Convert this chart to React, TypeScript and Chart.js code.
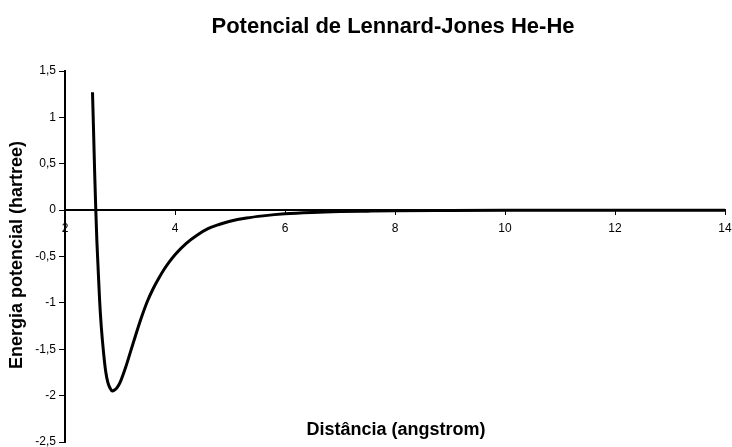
import React, { useEffect, useRef } from "react";
import { Chart, registerables } from "chart.js";

Chart.register(...registerables);

const CHART_TITLE = "Potencial de Lennard-Jones He-He";
const X_TITLE = "Distância (angstrom)";
const Y_TITLE = "Energia potencial (hartree)";

const distance = [
  2.5, 2.52, 2.54, 2.56, 2.58, 2.6, 2.63, 2.66, 2.7, 2.74, 2.78, 2.82, 2.86, 2.9, 2.95,
  3.0, 3.1, 3.2, 3.3, 3.4, 3.5, 3.6, 3.7, 3.8, 3.9, 4.0, 4.2, 4.4, 4.6, 4.8, 5.0,
  5.3, 5.6, 6.0, 6.5, 7.0, 7.5, 8.0, 9, 10, 11, 12, 13, 14,
];
const energy = [
  1.27, 0.84, 0.39, 0.0, -0.34, -0.6, -0.98, -1.26, -1.53, -1.74, -1.86, -1.92, -1.95, -1.94, -1.91,
  -1.86, -1.7, -1.51, -1.32, -1.14, -0.98, -0.85, -0.74, -0.64, -0.555, -0.48, -0.36, -0.27, -0.2, -0.155, -0.12,
  -0.085, -0.062, -0.04, -0.025, -0.016, -0.011, -0.007, -0.004, -0.002, -0.001, -0.0007, -0.0004, -0.0003,
];

const xTickValues = [2, 4, 6, 8, 10, 12, 14];
const yTickValues = [-2.5, -2, -1.5, -1, -0.5, 0, 0.5, 1, 1.5];
const yTickLabels = ["-2,5", "-2", "-1,5", "-1", "-0,5", "0", "0,5", "1", "1,5"];

const FONT = "'Liberation Sans', Arial, Helvetica, sans-serif";

export default function App() {
  const ref = useRef<HTMLCanvasElement | null>(null);

  useEffect(() => {
    if (!ref.current) return;
    const titles = {
      id: "customTitles",
      afterDraw(chart: any) {
        const ctx = chart.ctx;
        ctx.save();
        ctx.fillStyle = "#000";
        ctx.textAlign = "center";
        ctx.textBaseline = "alphabetic";
        ctx.font = `bold 22px ${FONT}`;
        ctx.fillText(CHART_TITLE, 393, 33);
        ctx.font = `bold 18px ${FONT}`;
        ctx.fillText(X_TITLE, 396, 435);
        ctx.translate(17, 255);
        ctx.rotate(-Math.PI / 2);
        ctx.textBaseline = "middle";
        ctx.fillText(Y_TITLE, 0, 0);
        ctx.restore();
      },
    };

    const chart = new Chart(ref.current, {
      type: "scatter",
      data: {
        datasets: [
          {
            data: distance.map((x, i) => ({ x, y: energy[i] })),
            showLine: true,
            borderColor: "#000",
            backgroundColor: "#000",
            borderWidth: 3,
            pointRadius: 0,
            fill: false,
            cubicInterpolationMode: "monotone",
          },
        ],
      },
      options: {
        animation: false,
        responsive: false,
        maintainAspectRatio: false,
        layout: { padding: { top: 71, left: 8, right: 7, bottom: 5 } },
        plugins: {
          legend: { display: false },
          tooltip: { enabled: false },
          title: { display: false },
        },
        scales: {
          x: {
            type: "linear",
            position: { y: 0 } as any,
            min: 2,
            max: 14,
            afterBuildTicks: (s: any) => {
              s.ticks = xTickValues.map((v) => ({ value: v }));
            },
            afterFit: (s: any) => {
              s.paddingLeft = 0;
              s.paddingRight = 0;
            },
            ticks: {
              color: "#000",
              font: { family: FONT, size: 12 },
              padding: 7,
              maxRotation: 0,
              autoSkip: false,
              callback: (v: any) => String(v),
            },
            grid: { drawOnChartArea: false, color: "#000", tickLength: 4, lineWidth: 1 },
            border: { color: "#000", width: 2 },
          },
          y: {
            type: "linear",
            position: "left",
            min: -2.5,
            max: 1.5,
            afterBuildTicks: (s: any) => {
              s.ticks = yTickValues.map((v) => ({ value: v }));
            },
            afterFit: (s: any) => {
              s.width = 57;
              s.paddingTop = 0;
              s.paddingBottom = 0;
            },
            ticks: {
              color: "#000",
              font: { family: FONT, size: 12 },
              padding: 3,
              autoSkip: false,
              callback: (v: any) => {
                const i = yTickValues.indexOf(Number(v));
                return i >= 0 ? yTickLabels[i] : "";
              },
            },
            grid: { drawOnChartArea: false, color: "#000", tickLength: 6, lineWidth: 1 },
            border: { color: "#000", width: 2 },
          },
        },
      },
      plugins: [titles],
    } as any);

    return () => chart.destroy();
  }, []);

  return (
    <div style={{ position: "fixed", left: 0, top: 0, width: 732, height: 447, background: "#fff" }}>
      <canvas ref={ref} width={732} height={447} style={{ display: "block", width: 732, height: 447 }} />
    </div>
  );
}
